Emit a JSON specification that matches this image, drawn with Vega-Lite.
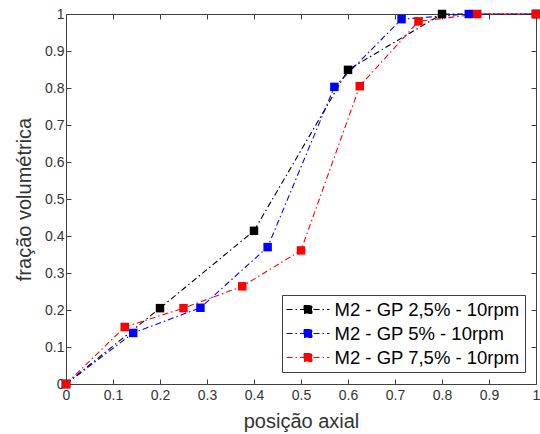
{
  "$schema": "https://vega.github.io/schema/vega-lite/v6.json",
  "width": 470,
  "height": 370,
  "autosize": "none",
  "padding": {"left": 66, "top": 14, "right": 4, "bottom": 50},
  "background": "white",
  "config": {
    "font": "Liberation Sans",
    "view": {"stroke": "#404040", "strokeWidth": 1},
    "axis": {
      "grid": false,
      "domainColor": "#404040",
      "tickColor": "#404040",
      "labelColor": "#333333",
      "titleColor": "#333333",
      "labelFont": "Liberation Sans",
      "titleFont": "Liberation Sans",
      "labelFontSize": 14,
      "titleFontSize": 20,
      "titleFontWeight": "normal",
      "labelFlush": false,
      "tickSize": -5
    }
  },
  "data": {
    "values": [
      {"x": 0, "y": 0, "s": "M2 - GP 2,5% - 10rpm"},
      {"x": 0.2, "y": 0.205, "s": "M2 - GP 2,5% - 10rpm"},
      {"x": 0.4, "y": 0.414, "s": "M2 - GP 2,5% - 10rpm"},
      {"x": 0.6, "y": 0.849, "s": "M2 - GP 2,5% - 10rpm"},
      {"x": 0.8, "y": 1.0, "s": "M2 - GP 2,5% - 10rpm"},
      {"x": 1.0, "y": 1.0, "s": "M2 - GP 2,5% - 10rpm"},
      {"x": 0, "y": 0, "s": "M2 - GP 5% - 10rpm"},
      {"x": 0.143, "y": 0.138, "s": "M2 - GP 5% - 10rpm"},
      {"x": 0.286, "y": 0.206, "s": "M2 - GP 5% - 10rpm"},
      {"x": 0.429, "y": 0.370, "s": "M2 - GP 5% - 10rpm"},
      {"x": 0.571, "y": 0.803, "s": "M2 - GP 5% - 10rpm"},
      {"x": 0.714, "y": 0.986, "s": "M2 - GP 5% - 10rpm"},
      {"x": 0.857, "y": 1.0, "s": "M2 - GP 5% - 10rpm"},
      {"x": 1.0, "y": 1.0, "s": "M2 - GP 5% - 10rpm"},
      {"x": 0, "y": 0, "s": "M2 - GP 7,5% - 10rpm"},
      {"x": 0.125, "y": 0.154, "s": "M2 - GP 7,5% - 10rpm"},
      {"x": 0.25, "y": 0.205, "s": "M2 - GP 7,5% - 10rpm"},
      {"x": 0.375, "y": 0.264, "s": "M2 - GP 7,5% - 10rpm"},
      {"x": 0.5, "y": 0.361, "s": "M2 - GP 7,5% - 10rpm"},
      {"x": 0.625, "y": 0.805, "s": "M2 - GP 7,5% - 10rpm"},
      {"x": 0.75, "y": 0.980, "s": "M2 - GP 7,5% - 10rpm"},
      {"x": 0.875, "y": 1.0, "s": "M2 - GP 7,5% - 10rpm"},
      {"x": 1.0, "y": 1.0, "s": "M2 - GP 7,5% - 10rpm"}
    ]
  },
  "layer": [
    {
      "mark": {
        "type": "line",
        "strokeDash": [6, 3, 1.5, 3],
        "strokeWidth": 1.1,
        "point": {"shape": "square", "filled": true, "size": 72, "opacity": 1}
      },
      "encoding": {
        "x": {
          "field": "x", "type": "quantitative",
          "scale": {"domain": [0, 1], "nice": false},
          "axis": {
            "title": "posição axial",
            "values": [0, 0.1, 0.2, 0.3, 0.4, 0.5, 0.6, 0.7, 0.8, 0.9, 1],
            "format": ".1~f",
            "labelPadding": 9,
            "titlePadding": 9
          }
        },
        "y": {
          "field": "y", "type": "quantitative",
          "scale": {"domain": [0, 1], "nice": false},
          "axis": {
            "title": "fração volumétrica",
            "values": [0, 0.1, 0.2, 0.3, 0.4, 0.5, 0.6, 0.7, 0.8, 0.9, 1],
            "format": ".1~f",
            "labelPadding": 7,
            "titlePadding": 10
          }
        },
        "color": {
          "field": "s", "type": "nominal",
          "scale": {
            "domain": ["M2 - GP 2,5% - 10rpm", "M2 - GP 5% - 10rpm", "M2 - GP 7,5% - 10rpm"],
            "range": ["#000000", "#0000ff", "#ff0000"]
          },
          "legend": {
            "title": null,
            "orient": "none",
            "legendX": 216,
            "legendY": 281,
            "direction": "vertical",
            "fillColor": "white",
            "strokeColor": "#404040",
            "padding": 5,
            "cornerRadius": 0,
            "symbolType": "M-2.39,0H2.39M-0.444,-0.444H0.444V0.444H-0.444Z",
            "symbolSize": 324,
            "symbolStrokeWidth": 1,
            "symbolDash": [6, 3, 1.5, 3],
            "symbolOffset": 11.5,
            "labelOffset": 17,
            "labelFontSize": 18.5,
            "labelLimit": 0,
            "labelFont": "Liberation Sans",
            "labelColor": "#000000",
            "rowPadding": 5,
            "encode": {
              "symbols": {
                "update": {
                  "fill": {"scale": "color", "field": "value"},
                  "stroke": {"scale": "color", "field": "value"},
                  "opacity": {"value": 1}
                }
              }
            }
          }
        }
      }
    },
    {
      "mark": {"type": "point", "opacity": 0},
      "encoding": {
        "x": {
          "field": "x", "type": "quantitative",
          "axis": {
            "orient": "top", "labels": false, "title": null,
            "values": [0, 0.1, 0.2, 0.3, 0.4, 0.5, 0.6, 0.7, 0.8, 0.9, 1]
          }
        },
        "y": {
          "field": "y", "type": "quantitative",
          "axis": {
            "orient": "right", "labels": false, "title": null,
            "values": [0, 0.1, 0.2, 0.3, 0.4, 0.5, 0.6, 0.7, 0.8, 0.9, 1]
          }
        }
      }
    }
  ],
  "resolve": {"axis": {"x": "independent", "y": "independent"}}
}
